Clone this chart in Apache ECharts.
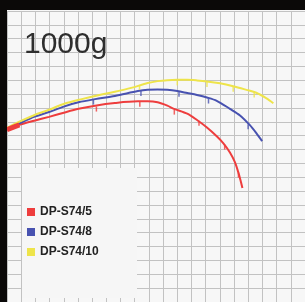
<!DOCTYPE html>
<html>
<head>
<meta charset="utf-8">
<script src="https://cdn.jsdelivr.net/npm/echarts@6/dist/echarts.min.js"></script>
<style>
  html, body { margin: 0; padding: 0; background: #0b0908; width: 305px; height: 302px; overflow: hidden; }
  #topbar { position: absolute; left: 0; top: 0; width: 305px; height: 10px; background: #0b0908; z-index: 9; }
  #mychart { position: absolute; left: 7px; top: 10px; width: 298px; height: 292px; }
</style>
</head>
<body>
<div id="topbar"></div>
<div id="mychart"></div>
<script>
// 竿の曲がり (x, y) - 方眼1マス単位
var seriesNames = ['DP-S74/5', 'DP-S74/8', 'DP-S74/10'];
var seriesColors = ['#ee3d3d', '#4852b0', '#eee44a'];
var titleText = '1000g';

var red = [[0, 12.43], [0.87, 12.78], [1.91, 13.08], [2.96, 13.36], [4.0, 13.66], [5.04, 13.94],
  [6.21, 14.17], [7.60, 14.36], [9.22, 14.48], [9.91, 14.48], [10.61, 14.41], [11.30, 14.17],
  [11.77, 13.94], [12.70, 13.59], [13.39, 13.13], [14.09, 12.59], [14.78, 11.96], [15.25, 11.45],
  [15.71, 10.79], [16.06, 10.09], [16.29, 9.39], [16.45, 8.81], [16.59, 8.23]];
var blue = [[0, 12.54], [0.87, 12.89], [1.91, 13.36], [2.96, 13.71], [4.0, 14.10], [5.04, 14.41],
  [6.21, 14.64], [7.60, 14.87], [9.22, 15.22], [9.91, 15.32], [10.61, 15.34], [11.30, 15.31],
  [12.0, 15.22], [12.70, 15.08], [13.39, 14.94], [14.09, 14.76], [14.78, 14.52], [15.71, 13.94],
  [16.40, 13.48], [17.10, 12.78], [17.57, 12.19], [17.98, 11.61]];
var yellow = [[0, 12.56], [0.87, 13.01], [1.91, 13.48], [2.96, 13.87], [4.0, 14.29], [5.27, 14.64],
  [6.43, 14.92], [7.60, 15.17], [8.75, 15.45], [9.91, 15.80], [10.61, 15.94], [11.30, 16.01],
  [12.0, 16.03], [12.70, 16.03], [13.39, 15.99], [14.09, 15.92], [15.01, 15.78], [15.94, 15.57],
  [16.87, 15.31], [17.57, 15.10], [18.26, 14.71], [18.77, 14.34]];

// ガイド位置
var redGuides = [[6.30, 14.14], [9.36, 14.48], [11.79, 13.92], [13.53, 13.11], [15.34, 11.40], [16.31, 9.38]];
var blueGuides = [[6.09, 14.64], [9.44, 15.26], [12.12, 15.20], [14.20, 14.72], [16.99, 12.86]];
var yellowGuides = [[9.34, 15.70], [12.0, 16.03], [14.09, 15.92], [15.94, 15.57], [17.42, 15.15]];

var chart = echarts.init(document.getElementById('mychart'));

function rod(name, data, color) {
  return {
    name: name,
    type: 'line',
    data: data,
    smooth: 0.3,
    symbol: 'none',
    lineStyle: { color: color, width: 2 },
    itemStyle: { color: color },
    z: 3
  };
}

function guides(data, color) {
  return {
    type: 'scatter',
    data: data,
    symbol: 'rect',
    symbolSize: [1.5, 5],
    symbolOffset: [0, 3],
    itemStyle: { color: color },
    silent: true,
    z: 3
  };
}

var option = {
  backgroundColor: '#f7f7f7',
  animation: false,
  title: {
    text: titleText,
    left: 12,
    top: 15,
    textStyle: { fontFamily: 'Liberation Sans', fontSize: 30, fontWeight: 'normal', color: '#2e2e2e' }
  },
  grid: { left: 0, top: 1, width: 301.9, height: 300.3 },
  xAxis: {
    type: 'value', min: 0, max: 21, interval: 1,
    axisLine: { show: false }, axisTick: { show: false }, axisLabel: { show: false },
    splitLine: { show: true, lineStyle: { color: '#c2c2c2', width: 1 } }
  },
  yAxis: {
    type: 'value', min: 0, max: 21, interval: 1,
    axisLine: { show: false }, axisTick: { show: false }, axisLabel: { show: false },
    splitLine: { show: true, lineStyle: { color: '#c2c2c2', width: 1 } }
  },
  legend: {
    data: seriesNames,
    orient: 'vertical',
    left: 15,
    top: 191,
    itemWidth: 8,
    itemHeight: 8,
    itemGap: 8,
    icon: 'rect',
    textStyle: { fontFamily: 'Liberation Sans', fontSize: 12, fontWeight: 'bold', color: '#222' },
    z: 10
  },
  graphic: [
    { type: 'rect', id: 'box', shape: { x: 15, y: 158, width: 115, height: 130 }, style: { fill: '#f6f6f6' }, z: 5 }
  ],
  series: [
    rod(seriesNames[0], red, seriesColors[0]),
    rod(seriesNames[1], blue, seriesColors[1]),
    rod(seriesNames[2], yellow, seriesColors[2]),
    guides(redGuides, seriesColors[0]),
    guides(blueGuides, seriesColors[1]),
    guides(yellowGuides, seriesColors[2]),
    {
      // 竿尻の太い部分
      type: 'line',
      data: red.slice(0, 2),
      symbol: 'none',
      lineStyle: { color: seriesColors[0], width: 5 },
      z: 4
    }
  ]
};
chart.setOption(option);
</script>
</body>
</html>
